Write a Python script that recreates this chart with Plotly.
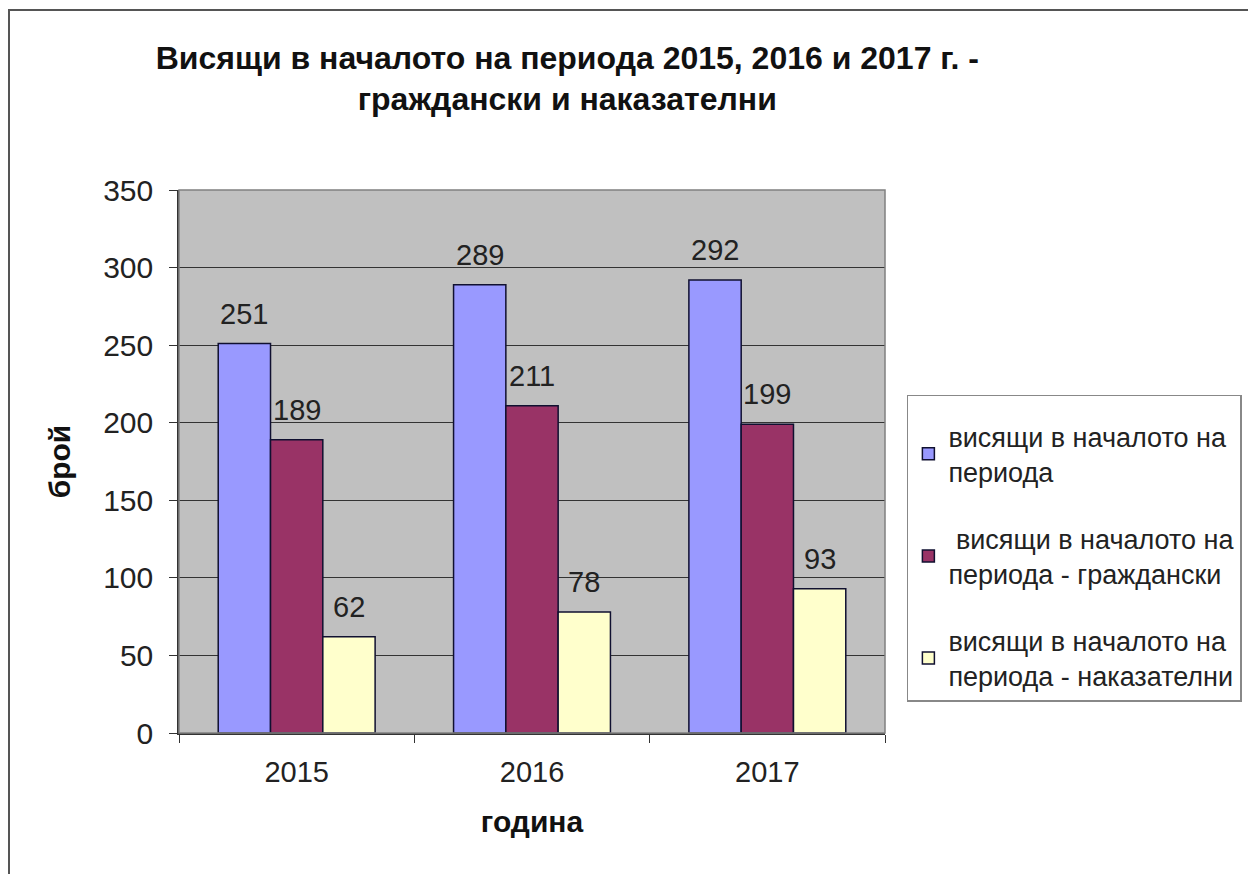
import plotly.graph_objects as go

years = ["2015", "2016", "2017"]
series_names = [
    "висящи в началото на<br>периода",
    " висящи в началото на<br>периода - граждански",
    "висящи в началото на<br>периода - наказателни",
]
total = [251, 289, 292]
civil = [189, 211, 199]
criminal = [62, 78, 93]
y_ticks = [0, 50, 100, 150, 200, 250, 300, 350]

colors = ["#9999FF", "#993366", "#FFFFCC"]
values = [total, civil, criminal]

FONT = "Liberation Sans, Arial, sans-serif"

# page has an 8px body margin; figure is sized/offset to compensate
W, H = 1248, 866
L, T = 171, 182
PW, PH = 706, 543

fig = go.Figure()
for i, (name, vals, col) in enumerate(zip(series_names, values, colors)):
    fig.add_trace(go.Bar(
        x=years, y=vals, name=name, legendgroup=f"g{i}",
        marker=dict(color=col, line=dict(color="#101030", width=1.5)),
    ))

# data labels above each bar (via axis coordinates)
n = len(values)
slot = (1 - 1/3) / n
annotations = []
for i, vals in enumerate(values):
    off = (i - (n - 1) / 2) * slot
    for j, v in enumerate(vals):
        annotations.append(dict(
            x=j + off, y=v, xref="x", yref="y", text=str(v), showarrow=False,
            yanchor="bottom", yshift=12, font=dict(family=FONT, size=29, color="#222"),
        ))

fig.update_layout(
    width=W, height=H,
    margin=dict(l=L, r=W - L - PW, t=T, b=H - T - PH, autoexpand=False),
    paper_bgcolor="white", plot_bgcolor="#C0C0C0",
    barmode="group", bargap=1/3, bargroupgap=0,
    font=dict(family=FONT, color="#222"),
    title=dict(
        text="<b>Висящи в началото на периода 2015, 2016 и 2017 г. -<br>граждански и наказателни</b>",
        x=0.55, xref="paper", xanchor="center", y=0.93, yref="container", yanchor="top",
        font=dict(family=FONT, size=32, color="#111"),
    ),
    xaxis=dict(
        type="category", tickson="boundaries", ticks="outside", ticklen=8, tickcolor="#333",
        showline=True, linecolor="#333", linewidth=1.5,
        tickfont=dict(family=FONT, size=29, color="#222"),
        ticklabelstandoff=12,
        title=dict(text="<b>година</b>", font=dict(family=FONT, size=30, color="#111"), standoff=24),
    ),
    yaxis=dict(
        range=[0, 350], tickvals=y_ticks, ticks="outside", ticklen=8, tickcolor="#333",
        showline=True, linecolor="#333", linewidth=1.5,
        showgrid=True, gridcolor="#333", gridwidth=1, zeroline=False,
        tickfont=dict(family=FONT, size=30, color="#222"),
        ticklabelstandoff=10,
        title=dict(text="<b>брой</b>", font=dict(family=FONT, size=30, color="#111"), standoff=24),
    ),
    legend=dict(
        x=1.031, y=0.6225, xanchor="left", yanchor="top",
        bordercolor="#888", borderwidth=1.5, bgcolor="white",
        font=dict(family=FONT, size=27, color="#222"),
        title=dict(text=" ", font=dict(size=12)),
        tracegroupgap=29, traceorder="grouped", itemwidth=30,
    ),
    annotations=annotations,
    shapes=[
        dict(type="rect", xref="paper", yref="paper", x0=0, x1=1, y0=0, y1=1,
             line=dict(color="#808080", width=1.5), fillcolor="rgba(0,0,0,0)", layer="above"),
        dict(type="rect", xref="paper", yref="paper",
             x0=(1 - L) / PW, x1=1.6, y0=-0.4, y1=(T + PH - 2) / PH,
             line=dict(color="#555", width=2), fillcolor="rgba(0,0,0,0)"),
    ],
)

fig.write_html("out.html")
